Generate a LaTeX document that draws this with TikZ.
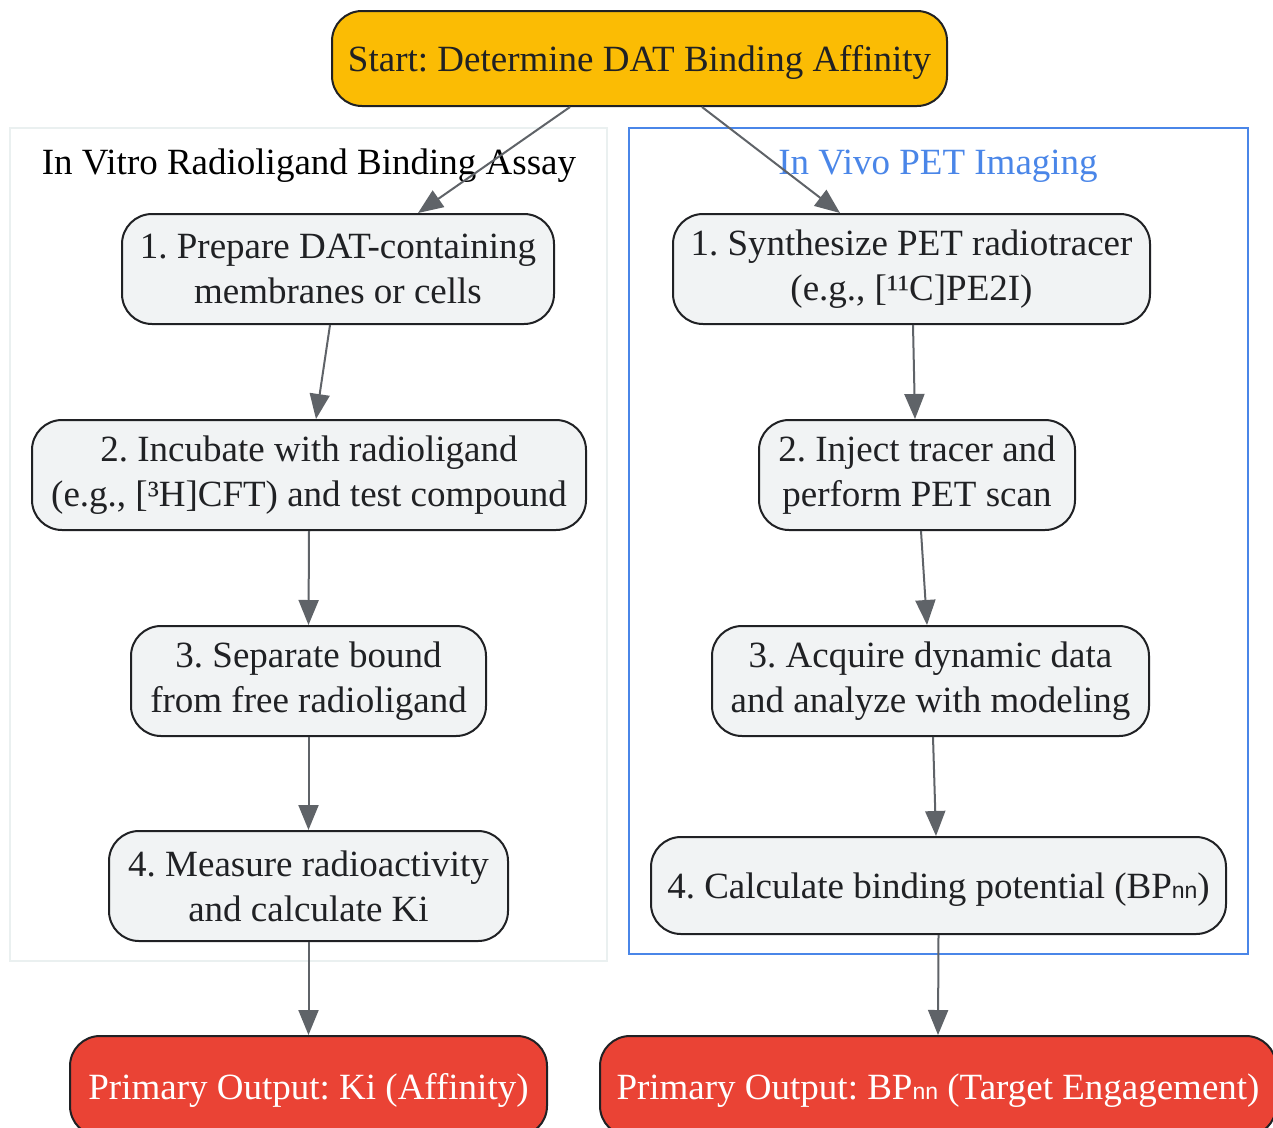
\documentclass[tikz,border=0pt]{standalone}
\usepackage{fontspec}
\setmainfont{Liberation Serif}
\newfontfamily\subsans{Liberation Sans}
\usetikzlibrary{arrows.meta}

\definecolor{startfill}{HTML}{FBBC04}
\definecolor{stepfill}{HTML}{F1F3F4}
\definecolor{outfill}{HTML}{EA4335}
\definecolor{edgeline}{HTML}{202124}
\definecolor{arrowgrey}{HTML}{5F6368}
\definecolor{vivoblue}{HTML}{4A86E8}
\definecolor{vitroline}{HTML}{EAF0F0}

\newcommand{\subnn}{{\subsans\fontsize{23}{23}\selectfont nn}}

\begin{document}
\frenchspacing
\begin{tikzpicture}[
    x=1pt, y=-1pt,
    stepbox/.style={
        rectangle,
        rounded corners=30pt,
        minimum height=110pt,
        draw=edgeline,
        line width=2pt,
        fill=stepfill,
        text=edgeline,
        inner sep=0pt,
        font=\fontsize{37}{45}\selectfont,
        execute at begin node={\rule{0pt}{34pt}},
        align=center
    },
    startbox/.style={stepbox, fill=startfill, minimum height=95pt},
    outbox/.style={stepbox, fill=outfill, text=white, minimum height=100pt},
    cluster/.style={rectangle, line width=2pt, minimum width=#1, inner sep=0pt},
    title/.style={font=\fontsize{37}{45}\selectfont, inner sep=0pt},
    flow/.style={draw=arrowgrey, line width=2pt,
        -{Triangle[length=25pt, width=20pt]}}
]
\useasboundingbox (0,0) rectangle (1273,1127);

% Groups
\node[cluster=597pt, draw=vitroline, minimum height=833pt] (vitro) at (308.5,544.5) {};
\node[cluster=619pt, draw=vivoblue, minimum height=826pt] (vivo) at (938.5,541) {};
\node[title] (vitrotitle) at (309,166) {In Vitro Radioligand Binding Assay};
\node[title, text=vivoblue] (vivotitle) at (938,166) {In Vivo PET Imaging};

% Start
\node[startbox, minimum width=615pt] (start) at (639.5,58.5) {Start: Determine DAT Binding Affinity};

% In vitro
\node[stepbox, minimum width=432pt] (l1) at (338,269) {1. Prepare DAT-containing\\membranes or cells};
\node[stepbox, minimum width=554pt] (l2) at (309,475) {2. Incubate with radioligand\\(e.g., [³H]CFT) and test compound};
\node[stepbox, minimum width=355pt] (l3) at (308.5,681) {3. Separate bound\\from free radioligand};
\node[stepbox, minimum width=399pt] (l4) at (308.5,886) {4. Measure radioactivity\\and calculate Ki};
\node[outbox, minimum width=477pt] (lout) at (308.5,1086) {Primary Output: Ki (Affinity)};

% In vivo
\node[stepbox, minimum width=477pt] (r1) at (911.5,269) {1. Synthesize PET radiotracer\\(e.g., [¹¹C]PE2I)};
\node[stepbox, minimum width=316pt] (r2) at (917,475) {2. Inject tracer and\\perform PET scan};
\node[stepbox, minimum width=437pt] (r3) at (930.5,681) {3. Acquire dynamic data\\and analyze with modeling};
\node[stepbox, minimum width=575pt, minimum height=97pt] (r4) at (938.5,885.5) {4. Calculate binding potential (BP\subnn)};
\node[outbox, minimum width=676pt] (rout) at (938,1086) {Primary Output: BP\subnn{} (Target Engagement)};

% Arrows
\draw[flow] ([xshift=-69.5pt]start.south) -- ([xshift=80pt]l1.north);
\draw[flow] ([xshift=62.5pt]start.south) -- ([xshift=-71.5pt]r1.north);
\draw[flow] ([xshift=-8pt]l1.south) -- ([xshift=7pt]l2.north);
\draw[flow] (l2.south) -- (l3.north);
\draw[flow] (l3.south) -- (l4.north);
\draw[flow] (l4.south) -- (lout.north);
\draw[flow] ([xshift=1.5pt]r1.south) -- ([xshift=-2pt]r2.north);
\draw[flow] ([xshift=4pt]r2.south) -- ([xshift=-3.5pt]r3.north);
\draw[flow] ([xshift=2.5pt]r3.south) -- ([xshift=-2.5pt]r4.north);
\draw[flow] (r4.south) -- (rout.north);

\end{tikzpicture}
\end{document}
